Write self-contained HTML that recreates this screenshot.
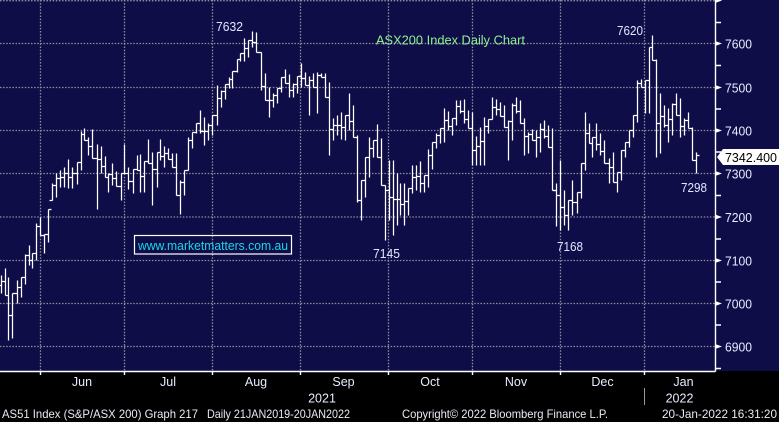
<!DOCTYPE html>
<html><head><meta charset="utf-8"><style>
html,body{margin:0;padding:0;background:#000;}
svg{display:block;}
text{font-family:"Liberation Sans",Arial,sans-serif;}
</style></head><body>
<svg width="779" height="422" viewBox="0 0 779 422" xmlns="http://www.w3.org/2000/svg">
<rect x="0" y="0" width="779" height="422" fill="#000"/>
<rect x="0" y="0" width="779" height="371" fill="#0f0d48"/>
<!-- grid -->
<g stroke="#8e8e9e" stroke-width="1.3" stroke-dasharray="1.5 1.6" fill="none">
<path d="M0 0.7H715M0 43.5H715M0 87.5H715M0 130.5H715M0 173.5H715M0 217H715M0 260.5H715M0 303.5H715M0 346.5H715"/>
<path d="M40.5 0V371M124.5 0V371M212.5 0V371M300.5 0V371M388.5 0V371M472.5 0V371M560.5 0V371M644.5 0V371"/>
</g>
<!-- bars -->
<g stroke="#ffffff" stroke-width="1.25" fill="none" transform="translate(0.5 0.5)">
<path d="M1 275V293M-2 285H1M1 281H4M5 268V295M2 281H5M5 295H8M8 277V340M5 295H8M8 315H11M12 293V338M9 315H12M12 293H15M17 280V303M14 293H17M17 287H20M21 277V297M18 287H21M21 277H24M25 254V284M22 277H25M25 255H28M29 245V265M26 255H29M29 260H32M32 253V268M29 260H32M32 253H35M36 223V260M33 253H36M36 226H39M40 217V235M37 226H40M40 235H43M44 234V253M41 235H44M44 234H47M48 209V242M45 234H48M48 209H51M52 183V200M49 200H52M52 185H55M56 173V197M53 185H56M56 178H59M60 170V187M57 178H60M60 177H63M64 167V187M61 177H64M64 173H67M68 159V188M65 173H68M68 177H71M72 167V188M69 177H72M72 173H75M77 162V184M74 173H77M77 162H80M81 131V170M78 162H81M81 134H84M84 128V140M81 134H84M84 140H87M88 137V155M85 140H88M88 146H91M92 129V158M89 146H92M92 158H95M97 144V209M94 158H97M97 159H100M101 146V173M98 159H101M101 166H104M105 156V177M102 166H105M105 177H108M108 173V192M105 177H108M108 174H111M112 163V185M109 174H112M112 178H115M116 171V186M113 178H116M116 186H119M121 173V200M118 186H121M121 173H124M124 144V173M121 173H124M124 173H127M128 167V189M125 173H128M128 181H131M133 169V193M130 181H133M133 169H136M137 155V170M134 169H137M137 170H140M140 154V192M137 170H140M140 176H143M144 161V192M141 176H144M144 161H147M148 139V163M145 161H148M148 163H151M152 152V205M149 163H152M152 169H155M157 152V187M154 169H157M157 152H160M160 139V160M157 152H160M160 156H163M164 146V167M161 156H164M164 153H167M168 148V159M165 153H168M168 159H171M172 153V167M169 159H172M172 167H175M176 153V195M173 167H176M176 195H179M180 180V214M177 195H180M180 182H183M184 170V195M181 182H184M184 170H187M188 137V170M185 170H188M188 140H191M192 132V148M189 140H192M192 132H195M196 123V133M193 132H196M196 123H199M200 110V133M197 123H200M200 131H203M204 117V145M201 131H204M204 131H207M208 123V140M205 131H208M208 125H211M212 115V135M209 125H212M212 115H215M217 85V125M214 115H217M217 98H220M221 90V107M218 98H221M221 91H224M225 84V99M222 91H225M225 84H228M229 77V88M226 84H229M229 79H232M232 71V88M229 79H232M232 71H235M237 59V72M234 71H237M237 59H240M240 53V61M237 59H240M240 53H243M244 38V61M241 53H244M244 48H247M248 40V57M245 48H248M248 40H251M252 31V47M249 40H252M252 42H255M256 32V52M253 42H256M256 52H259"/>
<path d="M261 52V90M258 52H261M261 86H264M265 73V100M262 86H265M265 100H268M269 87V117M266 100H269M269 100H272M273 93V107M270 100H273M273 95H276M277 88V103M274 95H277M277 88H280M281 77V92M278 88H281M281 77H284M285 69V83M282 77H285M285 83H288M289 74V97M286 83H289M289 90H292M293 83V97M290 90H293M293 84H296M297 76V93M294 84H297M297 76H300M301 63V87M298 76H301M301 78H304M305 72V85M302 78H305M305 85H308M309 76V115M306 85H309M309 80H312M313 73V87M310 80H313M313 87H316M317 72V113M314 87H317M317 75H320M321 73V77M318 75H321M321 77H324M325 73V97M322 77H325M325 97H328M329 82V155M326 97H329M329 129H332M333 118V140M330 129H333M333 125H336M337 115V135M334 125H337M337 125H340M341 112V139M338 125H341M341 127H344M345 115V140M342 127H345M345 115H348M349 93V130M346 115H349M349 121H352M353 105V137M350 121H353M353 137H356M357 135V202M354 137H357M357 200H360M361 180V220M358 200H361M361 180H364M365 157V197M362 180H365M365 157H368M369 137V177M366 157H369M369 148H372M373 140V157M370 148H373M373 140H376M377 124V157M374 140H377M377 157H380M381 138V185M378 157H381M381 185H384M385 185V240M382 185H385M385 190H388M389 160V220M386 190H389M389 197H392M393 160V235M390 197H393M393 199H396M397 173V225M394 199H397M397 199H400M400 183V215M397 199H400M400 204H403M404 183V225M401 204H404M404 201H407M408 188V215M405 201H408M408 188H411M412 165V193M409 188H412M412 177H415M416 165V190M413 177H416M416 176H419M420 161V192M417 176H420M420 183H423M424 175V192M421 183H424M424 175H427M428 149V187M425 175H428M428 155H431M432 142V169M429 155H432M432 142H435M436 133V148M433 142H436M436 135H439M440 128V143M437 135H440M440 128H443M444 108V142M441 128H444M444 120H447M448 111V130M445 120H448M448 126H451M452 118V135M449 126H452M452 118H455M456 100V125M453 118H456M456 106H459M460 100V113M457 106H460M460 111H463M464 99V123M461 111H464M464 119H467M468 110V128M465 119H468M468 128H471M472 112V165M469 128H472M472 150H475M476 136V165M473 150H476M476 146H479M480 127V165M477 146H480M480 141H483M484 117V165M481 141H484M484 126H487M488 119V133M485 126H488M488 119H491M492 97V119M489 119H492M492 107H495M496 99V115M493 107H496M496 109H499M500 102V116M497 109H500M500 116H503M504 105V127M501 116H504M504 127H507M508 120V160M505 127H508M508 121H511M512 103V140M509 121H512M512 105H515M516 97V113M513 105H516M516 111H519M520 100V123M517 111H520M520 123H523M524 118V155M521 123H524M524 136H527M528 132V153M525 136H528M528 134H531M532 129V140M529 134H532M532 140H535M536 130V157M533 140H536M536 137H539M540 123V152M537 137H540M540 129H543M544 120V138M541 129H544M544 136H547M548 125V147M545 136H548M548 147H551M552 128V190M549 147H552M552 190H555"/>
<path d="M556 183V226M553 190H556M556 195H559M560 160V230M557 195H560M560 207H563M564 190V225M561 207H564M564 215H567M568 200V230M565 215H568M568 200H571M572 180V215M569 200H572M572 202H575M577 192V213M574 202H577M577 192H580M581 163V198M578 192H581M581 163H584M585 112V170M582 163H585M585 133H588M589 123V143M586 133H589M589 143H592M592 137V157M589 143H592M592 137H595M596 123V150M593 137H596M596 144H599M600 133V155M597 144H600M600 151H603M604 140V163M601 151H604M604 163H607M609 158V183M606 163H609M609 167H612M613 152V182M610 167H613M613 182H616M617 172V192M614 182H617M617 172H620M621 150V180M618 172H621M621 150H624M625 142V157M622 150H625M625 142H628M629 130V147M626 142H629M629 130H632M633 115V137M630 130H633M633 115H636M637 80V122M634 115H637M637 83H640M641 79V87M638 83H641M641 87H644M645 80V113M642 87H645M645 80H648M649 47V113M646 80H649M649 47H652M652 35V60M649 47H652M652 60H655M656 59V157M653 60H656M656 123H659M660 93V153M657 123H660M660 116H663M664 105V127M661 116H664M664 125H667M668 108V142M665 125H668M668 119H671M672 103V135M669 119H672M672 104H675M676 93V115M673 104H676M676 115H679M680 98V137M677 115H680M680 126H683M684 118V135M681 126H684M684 120H687M688 112V128M685 120H688M688 128H691M692 127V160M689 128H692M692 160H695M696 152V173M693 160H696M696 155H699"/>
</g>
<!-- axes -->
<g stroke="#ffffff" stroke-width="1.4" fill="none">
<path d="M0 371.5H715.5M715.5 0V371.5"/>
<path d="M40.5 371V375M124.5 371V375M212.5 371V375M300.5 371V375M388.5 371V375M472.5 371V375M560.5 371V375M644.5 371V375"/>
<path d="M715 22.5H721M715 65.5H721M715 109H721M715 152H721M715 195.5H721M715 239H721M715 282H721M715 325H721M715 368.5H721"/>
</g>
<g fill="#ffffff">
<polygon points="715,-2.5 722,0.5 715,3"/>
<polygon points="715,41 722,43.5 715,46"/>
<polygon points="715,85 722,87.5 715,90"/>
<polygon points="715,128 722,130.5 715,133"/>
<polygon points="715,171 722,173.5 715,176"/>
<polygon points="715,214.5 722,217 715,219.5"/>
<polygon points="715,258 722,260.5 715,263"/>
<polygon points="715,301 722,303.5 715,306"/>
<polygon points="715,344 722,346.5 715,349"/>
</g>
<g fill="#e6ecff" font-size="12.5">
<text x="725" y="48.5" textLength="27" lengthAdjust="spacingAndGlyphs">7600</text>
<text x="725" y="92.5" textLength="27" lengthAdjust="spacingAndGlyphs">7500</text>
<text x="725" y="135.5" textLength="27" lengthAdjust="spacingAndGlyphs">7400</text>
<text x="725" y="178.5" textLength="27" lengthAdjust="spacingAndGlyphs">7300</text>
<text x="725" y="222" textLength="27" lengthAdjust="spacingAndGlyphs">7200</text>
<text x="725" y="265.5" textLength="27" lengthAdjust="spacingAndGlyphs">7100</text>
<text x="725" y="308.5" textLength="27" lengthAdjust="spacingAndGlyphs">7000</text>
<text x="725" y="351.5" textLength="27" lengthAdjust="spacingAndGlyphs">6900</text>
</g>
<!-- price tag -->
<polygon points="717,157 723,149 779,149 779,165 723,165" fill="#ffffff"/>
<text x="725" y="162" font-size="12.5" fill="#000" textLength="52" lengthAdjust="spacingAndGlyphs">7342.400</text>
<!-- annotations -->
<g fill="#dfe7ff" font-size="12.5">
<text x="216" y="31" textLength="27" lengthAdjust="spacingAndGlyphs">7632</text>
<text x="617" y="35" textLength="26" lengthAdjust="spacingAndGlyphs">7620</text>
<text x="681" y="192" textLength="26" lengthAdjust="spacingAndGlyphs">7298</text>
<text x="373" y="258" textLength="27" lengthAdjust="spacingAndGlyphs">7145</text>
<text x="557" y="251" textLength="26" lengthAdjust="spacingAndGlyphs">7168</text>
</g>
<text x="376" y="44.5" font-size="13" fill="#8ff08f" textLength="149" lengthAdjust="spacingAndGlyphs">ASX200 Index Daily Chart</text>
<rect x="134.5" y="235.5" width="157" height="18.5" fill="none" stroke="#ffffff" stroke-width="1.2"/>
<text x="138" y="250" font-size="13" fill="#18d6e8" textLength="150" lengthAdjust="spacingAndGlyphs">www.marketmatters.com.au</text>
<!-- bottom labels -->
<g fill="#e6ecff" font-size="12.5" text-anchor="middle">
<text x="82" y="386">Jun</text>
<text x="168" y="386">Jul</text>
<text x="256" y="386">Aug</text>
<text x="343.5" y="386">Sep</text>
<text x="430" y="386">Oct</text>
<text x="516" y="386">Nov</text>
<text x="602.5" y="386">Dec</text>
<text x="683.5" y="386">Jan</text>
<text x="322" y="402.5">2021</text>
<text x="679.5" y="402.5">2022</text>
</g>
<path d="M644.5 388V405" stroke="#9a9a9a" stroke-width="1"/>
<g fill="#e8eaf4" font-size="12">
<text x="2" y="418" textLength="196" lengthAdjust="spacingAndGlyphs">AS51 Index (S&amp;P/ASX 200) Graph 217</text>
<text x="207" y="418" textLength="143" lengthAdjust="spacingAndGlyphs">Daily 21JAN2019-20JAN2022</text>
<text x="402" y="418" textLength="206" lengthAdjust="spacingAndGlyphs">Copyright© 2022 Bloomberg Finance L.P.</text>
<text x="662" y="418" textLength="115" lengthAdjust="spacingAndGlyphs">20-Jan-2022 16:31:20</text>
</g>
</svg>
</body></html>
